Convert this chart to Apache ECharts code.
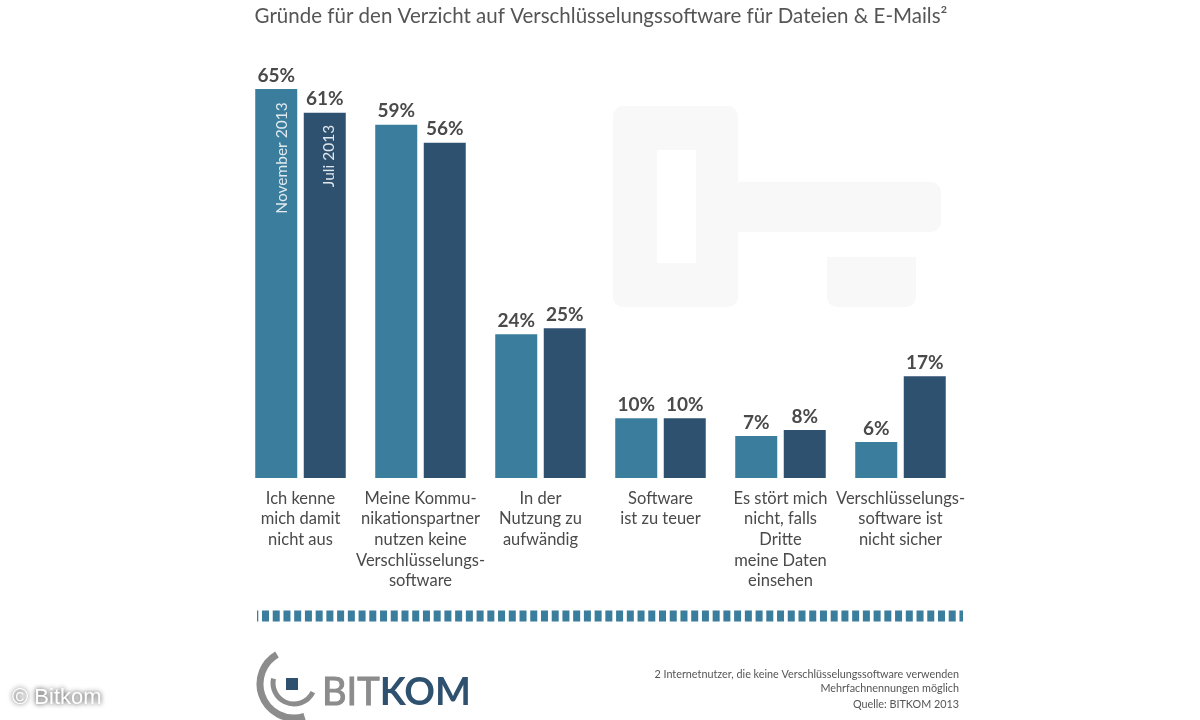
<!DOCTYPE html>
<html>
<head>
    <meta charset="utf-8">
    <title>Verschlüsselungssoftware</title>
    <style type="text/css">
        * {
            margin: 0;
            padding: 0;
        }

        #canvas {
            width: 1200px;
            height: 720px;
        }
    </style>
</head>
<body>

<div id="canvas"></div>

<script src="https://cdn.jsdelivr.net/npm/echarts@6/dist/echarts.min.js"></script>
<script type="text/javascript">

    const categories = [
        'Ich kenne\nmich damit\nnicht aus',
        'Meine Kommu-\nnikationspartner\nnutzen keine\nVerschlüsselungs-\nsoftware',
        'In der\nNutzung zu\naufwändig',
        'Software\nist zu teuer',
        'Es stört mich\nnicht, falls\nDritte\nmeine Daten\neinsehen',
        'Verschlüsselungs-\nsoftware ist\nnicht sicher'
    ];
    const seriesNames = ['November 2013', 'Juli 2013'];
    const november2013 = [65, 59, 24, 10, 7, 6];
    const juli2013 = [61, 56, 25, 10, 8, 17];
    const footnotes = [
        '2 Internetnutzer, die keine Verschlüsselungssoftware verwenden',
        'Mehrfachnennungen möglich',
        'Quelle: BITKOM 2013'
    ];

    const mainFont = 'Lato';
    const textColor = '#4a4a4a';
    const teal = '#3a7d9c';
    const navy = '#2f5170';
    const keyGrey = '#f8f8f8';
    const logoGrey = '#8c8c8c';

    function barSeries(name, values, color) {
        return {
            name: name,
            type: 'bar',
            data: values,
            barWidth: 42,
            barGap: '15.5%',
            itemStyle: {color: color},
            label: {
                show: true,
                position: 'top',
                distance: 4,
                formatter: '{c}%',
                fontFamily: mainFont,
                fontSize: 19,
                fontWeight: 'bold',
                color: textColor
            },
            animation: false
        };
    }

    function deg(d) {
        return d * Math.PI / 180;
    }

    var myChart = echarts.init(document.getElementById('canvas'));

    var option = {
        backgroundColor: '#fff',
        title: {
            text: 'Gründe für den Verzicht auf Verschlüsselungssoftware für Dateien & E-Mails²',
            left: 596,
            top: 1,
            textAlign: 'center',
            textStyle: {
                fontFamily: mainFont,
                fontSize: 20.5,
                fontWeight: 'normal',
                color: '#555'
            }
        },
        grid: {left: 240.5, width: 720, top: 59, height: 419},
        xAxis: {
            type: 'category',
            data: categories,
            axisLine: {show: false},
            axisTick: {show: false},
            axisLabel: {
                interval: 0,
                margin: 10,
                fontFamily: mainFont,
                fontSize: 16.5,
                lineHeight: 20.7,
                color: textColor
            }
        },
        yAxis: {type: 'value', min: 0, max: 70, show: false},
        series: [
            barSeries(seriesNames[0], november2013, teal),
            barSeries(seriesNames[1], juli2013, navy)
        ],
        graphic: [
            // key in the background
            {type: 'rect', z: 0, shape: {x: 613, y: 106, width: 125, height: 201, r: 10}, style: {fill: keyGrey}},
            {type: 'rect', z: 1, shape: {x: 657, y: 150, width: 39, height: 113}, style: {fill: '#fff'}},
            {type: 'rect', z: 0, shape: {x: 730, y: 182, width: 211, height: 50, r: 10}, style: {fill: keyGrey}},
            {type: 'rect', z: 0, shape: {x: 827, y: 257, width: 89, height: 50, r: [0, 0, 10, 10]}, style: {fill: keyGrey}},

            // series names inside the first bars
            {
                type: 'text', z: 10, x: 282, y: 158, rotation: Math.PI / 2,
                style: {
                    text: seriesNames[0], fill: '#dfeaf0', fontFamily: mainFont, fontSize: 15.5,
                    align: 'center', verticalAlign: 'middle'
                }
            },
            {
                type: 'text', z: 10, x: 329, y: 156, rotation: Math.PI / 2,
                style: {
                    text: seriesNames[1], fill: '#dfe6ec', fontFamily: mainFont, fontSize: 15.5,
                    align: 'center', verticalAlign: 'middle'
                }
            },

            // dashed rule
            {
                type: 'line', z: 5,
                shape: {x1: 257, y1: 616, x2: 963, y2: 616},
                style: {stroke: teal, lineWidth: 11, lineDash: [7, 3.73], lineDashOffset: 5.73}
            },

            // logo
            {
                type: 'arc', z: 5,
                shape: {cx: 294, cy: 684, r: 34, startAngle: deg(72), endAngle: deg(240), clockwise: true},
                style: {stroke: logoGrey, fill: 'none', lineWidth: 7}
            },
            {
                type: 'arc', z: 5,
                shape: {cx: 294, cy: 683, r: 21, startAngle: deg(26), endAngle: deg(192), clockwise: true},
                style: {stroke: logoGrey, fill: 'none', lineWidth: 5}
            },
            {type: 'rect', z: 5, shape: {x: 286, y: 678, width: 12, height: 12}, style: {fill: navy}},
            {
                type: 'text', z: 5, x: 322, y: 693,
                style: {
                    text: '{a|BIT}{b|KOM}', verticalAlign: 'middle', fontFamily: mainFont,
                    rich: {
                        a: {fontFamily: mainFont, fontSize: 38, fontWeight: 'normal', fill: logoGrey, stroke: logoGrey, lineWidth: 1},
                        b: {fontFamily: mainFont, fontSize: 38, fontWeight: 'bold', fill: navy}
                    }
                }
            },

            // footnotes
            {
                type: 'text', z: 5, x: 959, y: 675,
                style: {text: footnotes[0], align: 'right', verticalAlign: 'middle', fontFamily: mainFont, fontSize: 10.8, fill: '#555'}
            },
            {
                type: 'text', z: 5, x: 959, y: 689,
                style: {text: footnotes[1], align: 'right', verticalAlign: 'middle', fontFamily: mainFont, fontSize: 10.8, fill: '#555'}
            },
            {
                type: 'text', z: 5, x: 959, y: 705,
                style: {text: footnotes[2], align: 'right', verticalAlign: 'middle', fontFamily: mainFont, fontSize: 10.8, fill: '#555'}
            },

            // credit
            {
                type: 'text', z: 5, x: 12, y: 698,
                style: {
                    text: '© Bitkom', verticalAlign: 'middle', fontFamily: 'Liberation Sans', fontSize: 22,
                    fill: '#fff', textShadowColor: '#222', textShadowBlur: 5
                }
            }
        ]
    };

    myChart.setOption(option);
</script>
</body>
</html>
